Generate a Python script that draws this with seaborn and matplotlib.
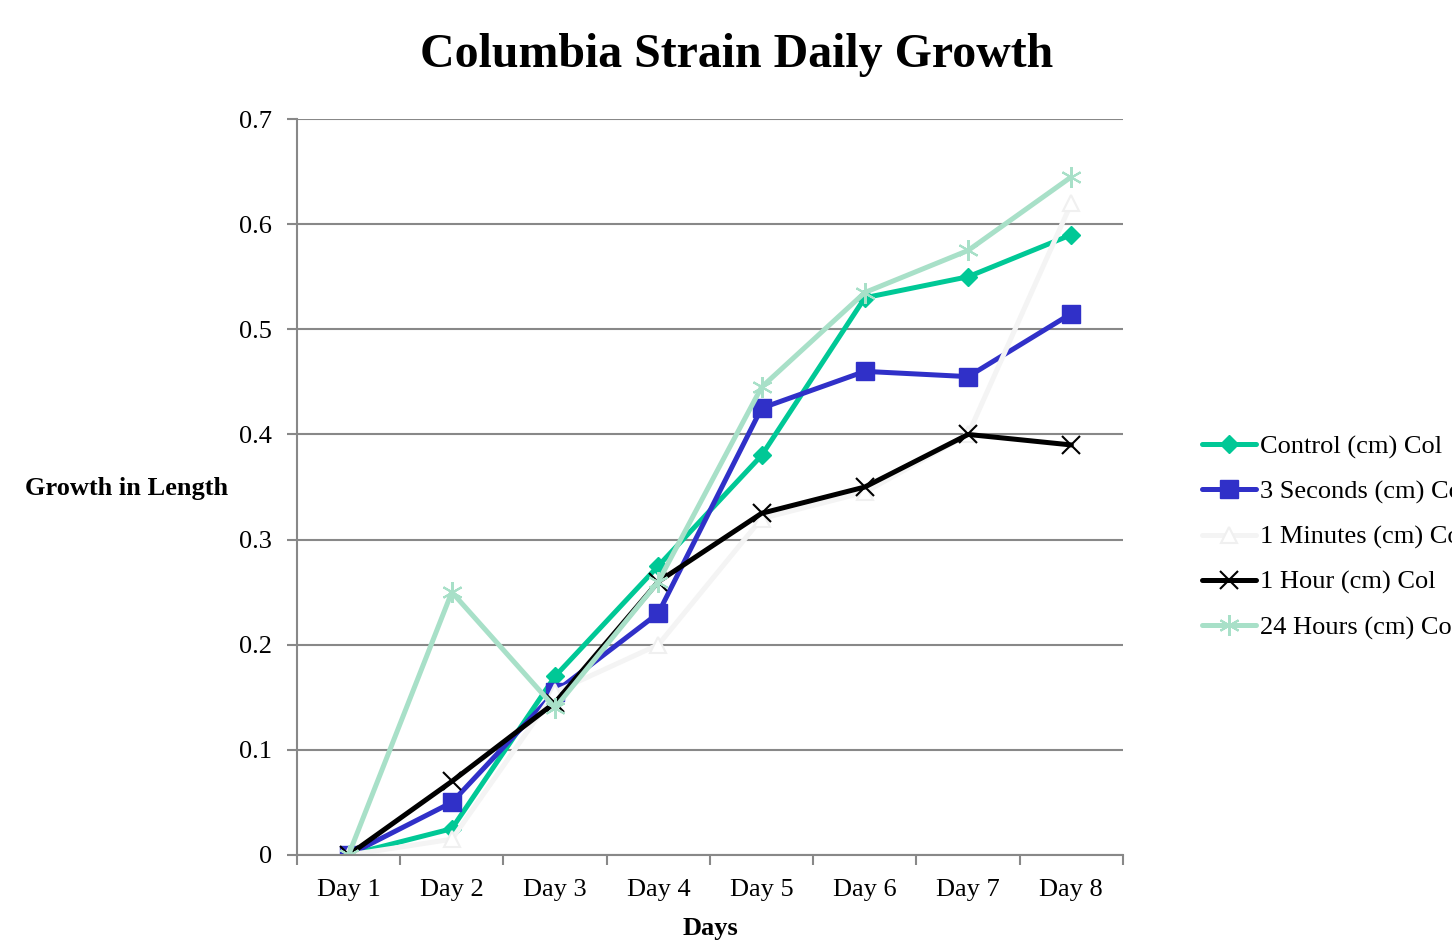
import matplotlib
matplotlib.use("Agg")
import matplotlib.pyplot as plt
from matplotlib.ticker import FixedLocator, NullFormatter
import seaborn as sns
import pandas as pd

days = ["Day 1", "Day 2", "Day 3", "Day 4", "Day 5", "Day 6", "Day 7", "Day 8"]
control = [0.0, 0.025, 0.17, 0.275, 0.38, 0.53, 0.55, 0.59]
three_seconds = [0.0, 0.05, 0.155, 0.23, 0.425, 0.46, 0.455, 0.515]
one_minute = [0.0, 0.015, 0.155, 0.20, 0.32, 0.345, 0.40, 0.62]
one_hour = [0.0, 0.07, 0.145, 0.26, 0.325, 0.35, 0.40, 0.39]
twenty_four_hours = [0.0, 0.25, 0.14, 0.26, 0.445, 0.535, 0.575, 0.645]

series_names = ["Control (cm) Col", "3 Seconds (cm) Col", "1 Minutes (cm) Col",
                "1 Hour (cm) Col", "24 Hours (cm) Col"]
series_values = [control, three_seconds, one_minute, one_hour, twenty_four_hours]

styles = {
    "Control (cm) Col": dict(color="#00C896", marker="D", markersize=9,
                             mfc="#00C896", mec="#00C896", mew=1),
    "3 Seconds (cm) Col": dict(color="#3030C8", marker="s", markersize=13,
                               mfc="#3030C8", mec="#3030C8", mew=1),
    "1 Minutes (cm) Col": dict(color="#F4F4F4", marker="^", markersize=12,
                               mfc="white", mec="#F0F0F0", mew=1.5),
    "1 Hour (cm) Col": dict(color="black", marker="x", markersize=13,
                            mfc="black", mec="black", mew=1.5),
    "24 Hours (cm) Col": dict(color="#A8E0C8", marker=(6, 2, 0), markersize=15,
                              mfc="#A8E0C8", mec="#A8E0C8", mew=1.5),
}

df = pd.DataFrame(
    [(d, name, v) for name, vals in zip(series_names, series_values)
     for d, v in zip(days, vals)],
    columns=["Day", "Series", "Growth"],
)

sns.set_style("white")
plt.rcParams["font.family"] = ["Liberation Serif", "DejaVu Serif"]
plt.rcParams["text.color"] = "black"
plt.rcParams["xtick.color"] = "black"
plt.rcParams["ytick.color"] = "black"
plt.rcParams["axes.labelcolor"] = "black"

fig = plt.figure(figsize=(14.52, 9.41), dpi=100)
ax = fig.add_axes([0.2045, 0.0914, 0.5689, 0.7821])

for name in series_names:
    st = styles[name]
    sns.lineplot(data=df[df["Series"] == name], x="Day", y="Growth", ax=ax,
                 color=st["color"], linewidth=3.6, marker=st["marker"],
                 markersize=st["markersize"], markerfacecolor=st["mfc"],
                 markeredgecolor=st["mec"], markeredgewidth=st["mew"],
                 label=name, sort=False, errorbar=None)

ax.set_ylim(0, 0.7)
ax.set_xlim(-0.5, len(days) - 0.5)
ax.set_yticks([0, 0.1, 0.2, 0.3, 0.4, 0.5, 0.6, 0.7])
ax.set_yticklabels(["0", "0.1", "0.2", "0.3", "0.4", "0.5", "0.6", "0.7"])
ax.yaxis.grid(True, color="#888888", linewidth=1.5)
ax.set_axisbelow(True)

for side in ["top", "right"]:
    ax.spines[side].set_visible(False)
for side in ["left", "bottom"]:
    ax.spines[side].set_color("#888888")
    ax.spines[side].set_linewidth(1.5)

ax.tick_params(axis="y", which="major", direction="out", length=7, width=1.5,
               color="#888888", labelcolor="black", left=True, labelsize=19, pad=11)
ax.tick_params(axis="x", which="major", length=0, labelsize=19, pad=17,
               labelcolor="black")
ax.xaxis.set_minor_locator(FixedLocator([i - 0.5 for i in range(len(days) + 1)]))
ax.xaxis.set_minor_formatter(NullFormatter())
ax.tick_params(axis="x", which="minor", direction="out", length=7, width=1.5,
               color="#888888", bottom=True)

ax.set_xlabel("Days", fontsize=19, fontweight="bold", labelpad=12, color="black")
ax.set_ylabel("")
fig.text(0.0875, 0.481, "Growth in Length", fontsize=19, fontweight="bold",
         ha="center", va="center", color="black")
fig.suptitle("Columbia Strain Daily Growth", fontsize=34.5, fontweight="bold",
             x=0.507, y=0.965, color="black")

leg = ax.legend(loc="upper left", bbox_to_anchor=(0.828, 0.538),
                bbox_transform=fig.transFigure, frameon=False, fontsize=19,
                handlelength=2.05, handletextpad=0.15, labelspacing=0.81,
                borderpad=0, borderaxespad=0)
for t in leg.get_texts():
    t.set_color("black")

fig.savefig("out.png", dpi=100)
